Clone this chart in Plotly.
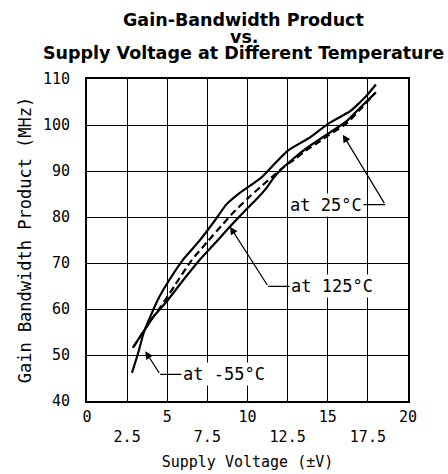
import plotly.graph_objects as go

# ---- data ----
v_m55 = [2.8, 3.2, 3.55, 4.1, 4.5, 5.0, 6.0, 7.0, 8.0, 8.7, 9.5, 10.8, 11.4, 12.5, 13.9, 15.0, 16.4, 17.0, 17.5, 18.0]
g_m55 = [46.1, 50.6, 55.0, 59.6, 62.6, 65.6, 70.8, 74.8, 79.4, 82.8, 85.2, 88.4, 90.5, 94.4, 97.3, 100.2, 103.0, 104.9, 106.7, 108.8]

v_25 = [2.86, 3.5, 4.1, 4.6, 5.5, 6.5, 7.5, 8.5, 9.1, 10.0, 10.8, 11.5, 12.2, 13.0, 13.7, 14.5, 15.1, 16.2, 17.0, 17.9]
g_25 = [51.6, 55.0, 58.2, 60.5, 65.3, 70.5, 74.6, 78.6, 80.9, 84.0, 86.5, 88.6, 90.7, 92.7, 94.6, 96.4, 97.9, 100.4, 103.3, 106.8]

v_125 = [2.86, 3.5, 4.14, 5.0, 6.0, 7.0, 8.0, 8.9, 9.8, 10.6, 11.2, 11.6, 12.2, 13.0, 13.7, 14.5, 15.2, 16.2, 17.0, 18.0]
g_125 = [51.6, 55.0, 58.3, 61.8, 66.3, 70.6, 74.4, 77.9, 81.2, 84.0, 86.4, 88.4, 90.7, 93.1, 95.0, 96.9, 98.5, 100.9, 103.7, 107.1]

x_ticks = [0, 2.5, 5, 7.5, 10, 12.5, 15, 17.5, 20]
x_labels = ["0", "2.5", "5", "7.5", "10", "12.5", "15", "17.5", "20"]
y_ticks = [40, 50, 60, 70, 80, 90, 100, 110]
y_labels = ["40", "50", "60", "70", "80", "90", "100", "110"]

title_lines = ["Gain-Bandwidth Product", "vs.", "Supply Voltage at Different Temperature"]
x_title = "Supply Voltage (±V)"
y_title = "Gain Bandwidth Product (MHz)"

# callouts: label, label centre (x, y), bend point, arrow tip
callouts = [
    ("at 25°C", (14.86, 82.7), (18.58, 82.7), (15.94, 97.9)),
    ("at 125°C", (15.27, 64.9), (11.29, 64.9), (8.91, 77.9)),
    ("at -55°C", (8.56, 45.8), (4.56, 45.8), (3.63, 50.8)),
]

MONO = "DejaVu Sans Mono"

fig = go.Figure()
for xs, ys, dash in [(v_m55, g_m55, "solid"), (v_125, g_125, "solid"), (v_25, g_25, "7px,4px")]:
    fig.add_trace(go.Scatter(x=xs, y=ys, mode="lines",
                             line=dict(color="black", width=2.2, dash=dash, shape="spline", smoothing=0.6),
                             showlegend=False, hoverinfo="skip"))

# staggered x tick labels
tick_text = [lab if i % 2 == 0 else "<br>" + lab for i, lab in enumerate(x_labels)]

annotations = []
title_y = [20, 37, 53]  # pixel centres from top of page
for line, yc in zip(title_lines, title_y):
    annotations.append(dict(text="<b>" + line + "</b>", xref="paper", yref="paper",
                            x=0.5, y=1, xshift=-4, yshift=79 - yc, xanchor="center", yanchor="middle",
                            showarrow=False, font=dict(family="DejaVu Sans", size=17.5, color="black")))

shapes = []
for label, (tx, ty), (bx, by), (ax_, ay_) in callouts:
    shapes.append(dict(type="line", xref="x", yref="y", x0=bx, y0=by, x1=tx, y1=ty,
                       line=dict(color="black", width=1.2)))
    annotations.append(dict(text="", x=ax_, y=ay_, ax=bx, ay=by, axref="x", ayref="y",
                            xref="x", yref="y", showarrow=True, arrowhead=2, arrowsize=1.3,
                            arrowwidth=1.2, arrowcolor="black", standoff=0))
    annotations.append(dict(text=label, x=tx, y=ty, xref="x", yref="y", showarrow=False,
                            xanchor="center", yanchor="middle", bgcolor="white", borderpad=1,
                            font=dict(family=MONO, size=17, color="black")))

axis_common = dict(showgrid=True, gridcolor="black", gridwidth=1, showline=True, linecolor="black",
                   linewidth=2, mirror=True, ticks="", zeroline=False,
                   tickfont=dict(family=MONO, size=15, color="black"))

fig.update_layout(
    width=448, height=474,
    margin=dict(l=87, r=40, t=79, b=73, pad=0, autoexpand=False),
    paper_bgcolor="white", plot_bgcolor="white",
    xaxis=dict(range=[0, 20], tickmode="array", tickvals=x_ticks, ticktext=tick_text,
               ticklabelstandoff=1,
               title=dict(text=x_title, font=dict(family=MONO, size=15, color="black"), standoff=12),
               **axis_common),
    yaxis=dict(range=[40, 110], tickmode="array", tickvals=y_ticks, ticktext=y_labels,
               ticklabelstandoff=12,
               title=dict(text=y_title, font=dict(family=MONO, size=17, color="black"), standoff=7),
               **axis_common),
    annotations=annotations,
    shapes=shapes,
)

fig.write_html("out.html", config={"displayModeBar": False, "staticPlot": True},
               post_script="document.body.style.margin='0';document.body.style.padding='0';")
